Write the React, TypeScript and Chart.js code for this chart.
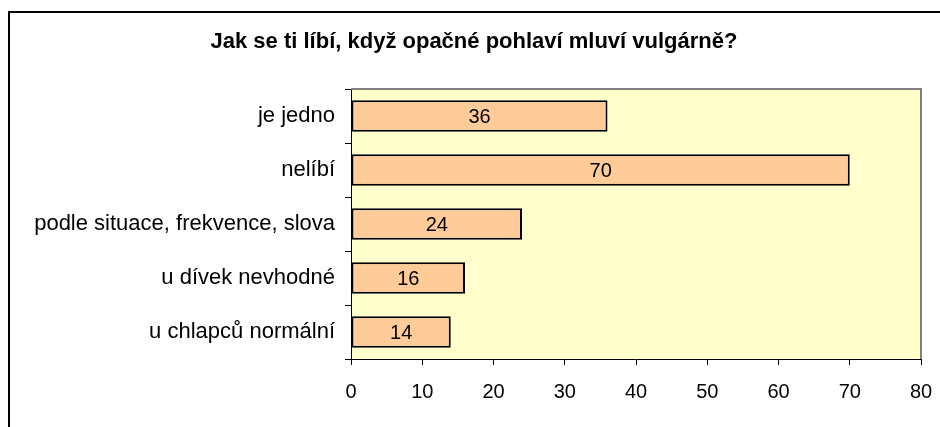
import React, { useEffect, useRef } from "react";
import { Chart, registerables } from "chart.js";

Chart.register(...registerables);

const title = "Jak se ti líbí, když opačné pohlaví mluví vulgárně?";
const categories = [
  "je jedno",
  "nelíbí",
  "podle situace, frekvence, slova",
  "u dívek nevhodné",
  "u chlapců normální",
];
const values = [36, 70, 24, 16, 14];
const xMin = 0;
const xMax = 80;
const xStep = 10;

const FONT = "'Liberation Sans', Arial, sans-serif";

export default function App() {
  const ref = useRef<HTMLCanvasElement>(null);

  useEffect(() => {
    const canvas = ref.current;
    if (!canvas) return;

    const framePlugin = {
      id: "frame",
      beforeDraw(chart: any) {
        const { ctx, chartArea } = chart;
        ctx.save();
        ctx.fillStyle = "#ffffff";
        ctx.fillRect(0, 0, chart.width, chart.height);
        ctx.fillStyle = "#FFFFCC";
        ctx.fillRect(chartArea.left, chartArea.top, chartArea.right - chartArea.left, chartArea.bottom - chartArea.top);
        ctx.restore();
      },
      afterDraw(chart: any) {
        const { ctx, chartArea } = chart;
        ctx.save();
        ctx.strokeStyle = "#808080";
        ctx.lineWidth = 2;
        ctx.beginPath();
        ctx.moveTo(chartArea.left, chartArea.top);
        ctx.lineTo(chartArea.right, chartArea.top);
        ctx.lineTo(chartArea.right, chartArea.bottom);
        ctx.stroke();
        // outer border
        ctx.strokeStyle = "#000000";
        ctx.lineWidth = 2;
        ctx.strokeRect(9, 12, 960, 460);
        // title
        ctx.fillStyle = "#000000";
        ctx.font = `bold 22px ${FONT}`;
        ctx.textAlign = "center";
        ctx.textBaseline = "middle";
        ctx.fillText(title, 474, 42);
        ctx.restore();
      },
      afterDatasetsDraw(chart: any) {
        const { ctx } = chart;
        const meta = chart.getDatasetMeta(0);
        ctx.save();
        ctx.fillStyle = "#000000";
        ctx.font = `20px ${FONT}`;
        ctx.textAlign = "center";
        ctx.textBaseline = "middle";
        meta.data.forEach((bar: any, i: number) => {
          const x = (bar.base + bar.x) / 2;
          ctx.fillText(String(values[i]), x, bar.y + 1);
        });
        ctx.restore();
      },
    };

    const chart = new Chart(canvas, {
      type: "bar",
      data: {
        labels: categories,
        datasets: [
          {
            data: values,
            backgroundColor: "#FFCC99",
            borderColor: "#000000",
            borderWidth: 2,
            borderSkipped: false,
            categoryPercentage: 1,
            barPercentage: 0.58,
          },
        ],
      },
      options: {
        indexAxis: "y",
        animation: false,
        responsive: false,
        devicePixelRatio: 1,
        layout: { padding: { top: 89, right: 19, left: 0, bottom: 0 } },
        plugins: {
          legend: { display: false },
          title: { display: false },
          tooltip: { enabled: false },
        },
        scales: {
          x: {
            min: xMin,
            max: xMax,
            ticks: {
              stepSize: xStep,
              color: "#000000",
              font: { family: FONT, size: 20 },
              padding: 15,
            },
            grid: { drawOnChartArea: false, tickLength: 6, color: "#000000" },
            border: { color: "#000000", width: 1 },
            afterFit(scale: any) {
              scale.height = 68;
              scale.paddingLeft = 0;
              scale.paddingRight = 0;
            },
          },
          y: {
            ticks: {
              color: "#000000",
              font: { family: FONT, size: 22 },
              padding: 10,
            },
            grid: { drawOnChartArea: false, tickLength: 6, color: "#000000", offset: true },
            border: { color: "#000000", width: 1 },
            afterFit(scale: any) {
              scale.width = 351;
              scale.paddingTop = 0;
              scale.paddingBottom = 0;
            },
          },
        },
      },
      plugins: [framePlugin],
    });

    return () => chart.destroy();
  }, []);

  return (
    <div style={{ position: "fixed", left: 0, top: 0, width: 940, height: 427 }}>
      <canvas ref={ref} width={940} height={427} style={{ display: "block", width: 940, height: 427 }} />
    </div>
  );
}
